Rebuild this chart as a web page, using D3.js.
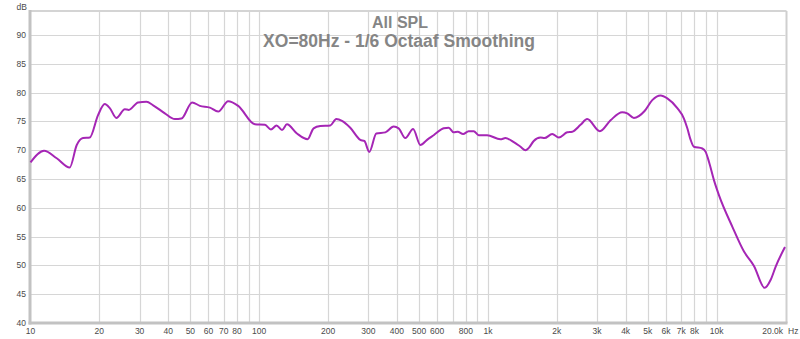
<!DOCTYPE html>
<html><head><meta charset="utf-8">
<script src="https://cdn.jsdelivr.net/npm/d3@7"></script>
<style>body{margin:0;background:#fff}svg{display:block}</style>
</head><body><svg id="c" width="800" height="339"></svg>
<script>
// ---- data (frequency in Hz, SPL in dB) ----
const freqs = [10, 11.46, 13.02, 14.84, 15.93, 16.97, 18.16, 19.74, 21.12, 22.22, 23.74, 25.84, 26.9, 29.54, 32.13, 34.37, 38.67, 42.76, 45.71, 50.91, 55.03, 60.84, 66.15, 73.15, 80.91, 95.76, 105.9, 112.5, 119.1, 125.8, 132.2, 146.2, 162.7, 172.9, 184.9, 204.5, 217.3, 230.1, 250.1, 276.7, 288.1, 302.9, 325.1, 356, 387, 407, 435.5, 470.7, 506.6, 541.9, 579.2, 640.7, 673.9, 708.6, 737.7, 778.8, 824.1, 866.8, 911.3, 991.9, 1134, 1193, 1297, 1388, 1459, 1509, 1586, 1697, 1767, 1910, 2041, 2222, 2336, 2540, 2717, 3085, 3437, 3867, 4066, 4345, 4841, 5230, 5688, 6085, 6730, 7194, 7444, 7696, 7957, 8657, 8951, 9254, 9732, 10232, 11716, 13170, 14560, 16223, 17230, 18120, 19900];
const spl = [67.9, 69.9, 68.6, 67.0, 70.9, 72.1, 72.2, 76.1, 78.0, 77.3, 75.6, 77.1, 77.0, 78.3, 78.4, 77.8, 76.4, 75.4, 75.5, 78.3, 77.7, 77.4, 76.7, 78.5, 77.7, 74.5, 74.4, 73.6, 74.3, 73.5, 74.5, 72.9, 71.9, 73.8, 74.2, 74.3, 75.4, 75.1, 73.9, 71.8, 71.6, 69.7, 72.9, 73.1, 74.1, 73.8, 72.1, 73.7, 70.9, 71.8, 72.6, 73.8, 73.9, 73.1, 73.2, 72.8, 73.3, 73.3, 72.6, 72.6, 71.9, 72.1, 71.4, 70.6, 70.0, 70.4, 71.6, 72.2, 72.1, 72.8, 72.2, 73.1, 73.2, 74.4, 75.4, 73.3, 75.2, 76.6, 76.4, 75.6, 76.8, 78.7, 79.5, 79.0, 77.3, 75.5, 73.8, 71.8, 70.6, 70.3, 69.7, 68.0, 64.8, 62.2, 56.7, 52.4, 49.9, 46.1, 47.5, 49.8, 53.2];

const yTicks = [40, 45, 50, 55, 60, 65, 70, 75, 80, 85, 90];
const xGrid = [20, 30, 40, 50, 60, 70, 80, 90, 100, 200, 300, 400, 500, 600, 700, 800, 900, 1000, 2000, 3000, 4000, 5000, 6000, 7000, 8000, 9000, 10000];
const xLabelValues = [10, 20, 30, 40, 50, 60, 70, 80, 100, 200, 300, 400, 500, 600, 800, 1000, 2000, 3000, 4000, 5000, 6000, 7000, 8000, 10000];
const xLabelTexts = ["10", "20", "30", "40", "50", "60", "70", "80", "100", "200", "300", "400", "500", "600", "800", "1k", "2k", "3k", "4k", "5k", "6k", "7k", "8k", "10k"];
const lastLabel = "20.0k";
const xUnit = "Hz";
const yUnit = "dB";
const title1 = "All SPL";
const title2 = "XO=80Hz - 1/6 Octaaf Smoothing";

// ---- layout ----
const svg = d3.select("#c");
const L = 30.5, R = 785.5, T = 11, B = 323;
const x = d3.scaleLog().domain([10, 20000]).range([L, R]);
const y = d3.scaleLinear().domain([40, 40 + (B - T) / 5.76]).range([B, T]);

const grid = svg.append("g");
grid.selectAll("line.h").data(yTicks.filter(d => d > 40)).join("line")
  .attr("x1", L).attr("x2", R)
  .attr("y1", d => Math.round(y(d)) + 0.5).attr("y2", d => Math.round(y(d)) + 0.5)
  .attr("stroke", "#d6d6d6").attr("stroke-width", 1.2);
grid.selectAll("line.v").data(xGrid).join("line")
  .attr("x1", d => Math.round(x(d)) + 0.5).attr("x2", d => Math.round(x(d)) + 0.5)
  .attr("y1", T).attr("y2", B)
  .attr("stroke", "#d6d6d6").attr("stroke-width", 1.2);

// frame
svg.append("line").attr("x1", L).attr("x2", R + 1).attr("y1", T).attr("y2", T)
  .attr("stroke", "#d4d4d4").attr("stroke-width", 2);
svg.append("line").attr("x1", R + 1).attr("x2", R + 1).attr("y1", T).attr("y2", B)
  .attr("stroke", "#cfcfcf").attr("stroke-width", 2);
svg.append("line").attr("x1", 30).attr("x2", 30).attr("y1", T - 1).attr("y2", B + 1.5)
  .attr("stroke", "#c2c2c2").attr("stroke-width", 3);
svg.append("line").attr("x1", 28.5).attr("x2", R + 2).attr("y1", B).attr("y2", B)
  .attr("stroke", "#c2c2c2").attr("stroke-width", 3);

// y labels
const lab = svg.append("g").attr("font-family", "Liberation Sans, Arial, sans-serif")
  .attr("font-size", 8.5).attr("fill", "#4a4a4a");
lab.selectAll("text.y").data(yTicks).join("text")
  .attr("x", 26).attr("y", d => y(d) + 3).attr("text-anchor", "end").text(d => d);
lab.append("text").attr("x", 27).attr("y", 10).attr("text-anchor", "end").text(yUnit);

// x labels
lab.selectAll("text.x").data(xLabelValues).join("text")
  .attr("x", d => x(d)).attr("y", 334).attr("text-anchor", "middle")
  .text((d, i) => xLabelTexts[i]);
lab.append("text").attr("x", 783).attr("y", 334).attr("text-anchor", "end").text(lastLabel);
lab.append("text").attr("x", 788).attr("y", 334).text(xUnit);

// title
const tt = svg.append("g").attr("font-family", "Liberation Sans, Arial, sans-serif")
  .attr("font-weight", "bold").attr("fill", "#858585").attr("text-anchor", "middle");
tt.append("text").attr("x", 400).attr("y", 28).attr("font-size", 16).text(title1);
tt.append("text").attr("x", 399).attr("y", 47).attr("font-size", 17.5).text(title2);

// curve
const pts = freqs.map((f, i) => [f, spl[i]]);
const line = d3.line().x(d => x(d[0])).y(d => y(d[1])).curve(d3.curveMonotoneX);
svg.append("path").attr("d", line(pts)).attr("fill", "none")
  .attr("stroke", "#a526b5").attr("stroke-width", 2).attr("stroke-linejoin", "round");
</script>
</body></html>
